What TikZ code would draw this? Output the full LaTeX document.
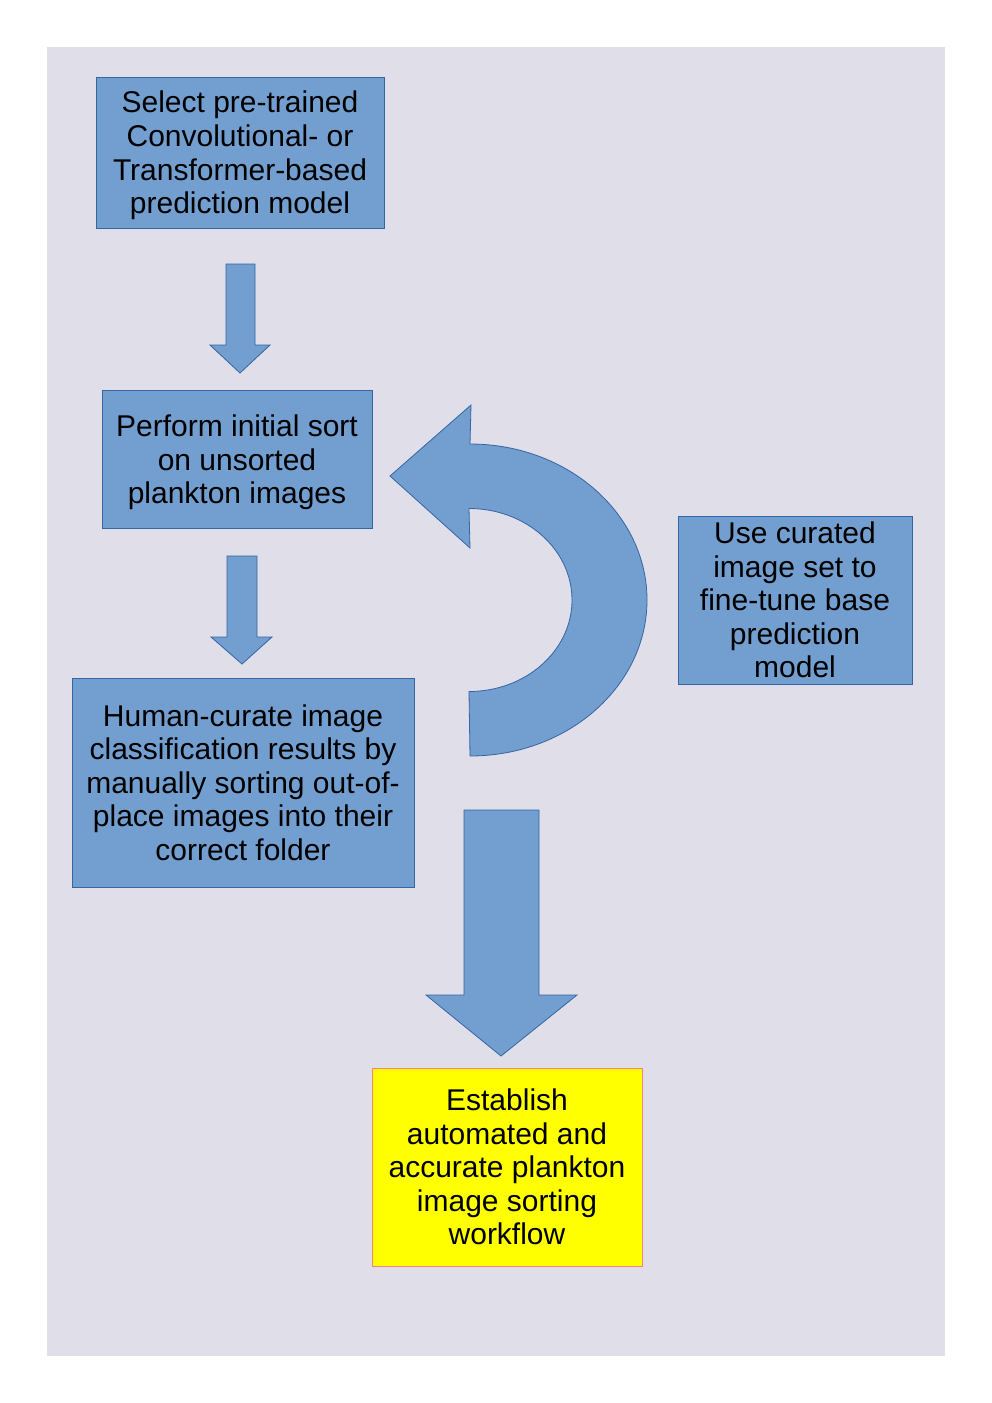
\documentclass[tikz,border=0pt]{standalone}
\usepackage{fontspec}
\setmainfont{Liberation Sans}
\definecolor{bg}{HTML}{DFDEE9}
\definecolor{boxfill}{HTML}{729FCF}
\definecolor{boxline}{HTML}{3465A4}
\definecolor{ylwline}{HTML}{FF7F7F}
\definecolor{ylwfill}{RGB}{255,255,0}
\begin{document}
\begin{tikzpicture}[x=1pt,y=1pt,
  txt/.style={font=\fontsize{30}{33.6}\selectfont, align=center, inner sep=0pt, text=black},
  bluebox/.style={txt, draw=boxline, fill=boxfill, line width=1pt},
  goalbox/.style={txt, draw=ylwline, fill=ylwfill, line width=1pt},
  blockarrow/.style={draw=boxline, fill=boxfill, line width=0.8pt, line join=miter}]
\useasboundingbox (0,0) rectangle (992,-1403);
\fill[bg] (47,-47) rectangle (945,-1356);

% boxes
\node[bluebox, minimum width=288pt, minimum height=151pt] (select) at (240,-152.5) {};
\node[txt] (selecttext) at ([yshift=-3pt]select.center)
  {Select pre-trained\\Convolutional- or\\Transformer-based\\prediction model};
\node[bluebox, minimum width=270pt, minimum height=138pt] (sort) at (237,-459) {};
\node[txt] (sorttext) at ([yshift=-3.5pt]sort.center)
  {Perform initial sort\\on unsorted\\plankton images};
\node[bluebox, minimum width=342pt, minimum height=209pt] (curate) at (243,-782.5)
  {Human-curate image\\classification results by\\manually sorting out-of-\\place images into their\\correct folder};
\node[bluebox, minimum width=234pt, minimum height=168pt] (finetune) at (795,-600)
  {Use curated\\image set to\\fine-tune base\\prediction\\model};
\node[goalbox, minimum width=270pt, minimum height=198pt] (goal) at (507,-1167)
  {Establish\\automated and\\accurate plankton\\image sorting\\workflow};

% block arrow 1
\draw[blockarrow] (226,-264) -- (255,-264) -- (255,-345) -- (270,-345) -- (240,-373)
  -- (210,-345) -- (226,-345) -- cycle;
% block arrow 2
\draw[blockarrow] (227,-556) -- (257,-556) -- (257,-637) -- (272,-637) -- (242,-664)
  -- (211,-637) -- (227,-637) -- cycle;
% big block arrow
\draw[blockarrow] (464,-810) -- (539,-810) -- (539,-995) -- (577,-995) -- (501,-1056)
  -- (426,-995) -- (464,-995) -- cycle;
% curved arrow
\draw[blockarrow] (470,-444) arc[start angle=90, end angle=-90, x radius=177pt, y radius=156pt]
  -- (469,-691.5) arc[start angle=-90, end angle=90, x radius=103pt, y radius=91.5pt]
  -- (470,-548) -- (390,-476) -- (471,-405) -- cycle;
\end{tikzpicture}
\end{document}
